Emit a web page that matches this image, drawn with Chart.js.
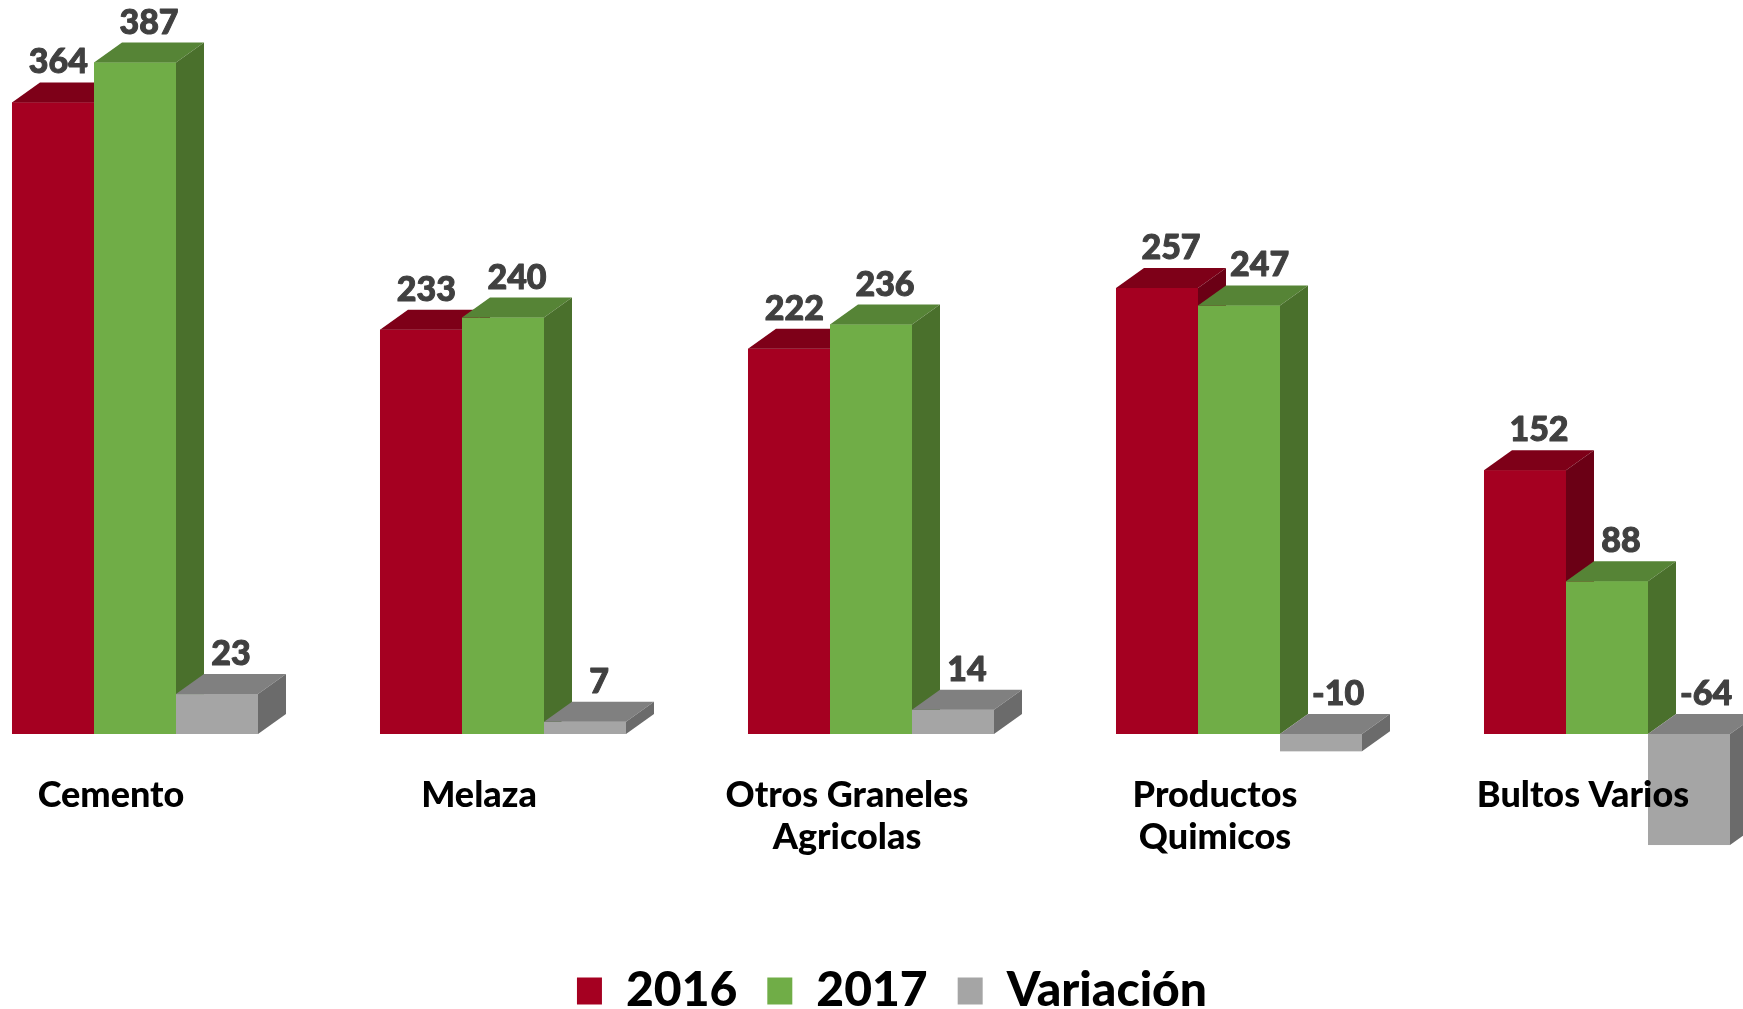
<!DOCTYPE html>
<html>
<head>
<meta charset="utf-8">
<title>Comparativo 2016 - 2017</title>
<script src="https://cdn.jsdelivr.net/npm/chart.js@4.4.1/dist/chart.umd.min.js"></script>
<style>
  html, body { margin: 0; padding: 0; background: #fff; overflow: hidden; width: 1743px; height: 1009px; }
  #wrap { position: absolute; left: -49px; top: 0; width: 1882px; height: 1009px; }
</style>
</head>
<body>
<div id="wrap"><canvas id="barChart"></canvas></div>
<script>
var categories = ['Cemento', 'Melaza', ['Otros Graneles', 'Agricolas'], ['Productos', 'Quimicos'], 'Bultos Varios'];
var seriesNames = ['2016', '2017', 'Variación'];
var values2016 = [364, 233, 222, 257, 152];
var values2017 = [387, 240, 236, 247, 88];
var variacion = [23, 7, 14, -10, -64];

// front / top / side colours for the fake 3d boxes
var frontColors = ['#A50021', '#70AD47', '#A5A5A5'];
var topColors = ['#7E0018', '#568436', '#808080'];
var sideColors = ['#6B0015', '#4A702C', '#6B6B6B'];

var depthX = 28;
var depthY = 20;

function poly(ctx, color, pts) {
    ctx.fillStyle = color;
    ctx.beginPath();
    ctx.moveTo(pts[0][0], pts[0][1]);
    for (var k = 1; k < pts.length; k++) ctx.lineTo(pts[k][0], pts[k][1]);
    ctx.closePath();
    ctx.fill();
}

var bar3d = {
    id: 'bar3d',
    afterDatasetsDraw: function(chart) {
        var ctx = chart.ctx;
        var n = chart.data.datasets.length;
        ctx.save();
        for (var j = 0; j < categories.length; j++) {
            for (var i = 0; i < n; i++) {
                var p = chart.getDatasetMeta(i).data[j].getProps(['x', 'y', 'base', 'width'], true);
                var left = p.x - p.width / 2, right = p.x + p.width / 2;
                var top = Math.min(p.y, p.base), bottom = Math.max(p.y, p.base);
                ctx.fillStyle = frontColors[i];
                ctx.fillRect(left, top, p.width, bottom - top);
                poly(ctx, topColors[i], [[left, top], [right, top], [right + depthX, top - depthY], [left + depthX, top - depthY]]);
                poly(ctx, sideColors[i], [[right, top], [right + depthX, top - depthY], [right + depthX, bottom - depthY], [right, bottom]]);
            }
        }
        // value labels, nudged off the neighbouring taller boxes
        ctx.font = '900 34px Lato';
        ctx.fillStyle = '#404040';
        ctx.strokeStyle = '#404040';
        ctx.lineWidth = 1;
        ctx.lineJoin = 'round';
        ctx.textAlign = 'center';
        ctx.textBaseline = 'alphabetic';
        for (var j = 0; j < categories.length; j++) {
            for (var i = 0; i < n; i++) {
                var bar = chart.getDatasetMeta(i).data[j];
                var top = Math.min(bar.y, bar.base);
                var txt = String(chart.data.datasets[i].data[j]);
                var w = ctx.measureText(txt).width;
                var cx = bar.x + depthX / 2;
                if (i + 1 < n) {
                    var nb = chart.getDatasetMeta(i + 1).data[j];
                    var nleft = nb.x - nb.width / 2;
                    if (Math.min(nb.y, nb.base) < top && cx + w / 2 > nleft - 6) cx = nleft - 6 - w / 2;
                }
                if (i > 0) {
                    var pb = chart.getDatasetMeta(i - 1).data[j];
                    var pright = pb.x + pb.width / 2 + depthX;
                    if (Math.min(pb.y, pb.base) < top && cx - w / 2 < pright + 4) cx = pright + 4 + w / 2;
                }
                ctx.strokeText(txt, cx, top - depthY - 9);
                ctx.fillText(txt, cx, top - depthY - 9);
            }
        }
        ctx.restore();
    }
};

var config = {
    type: 'bar',
    data: {
        labels: categories,
        datasets: [
            { label: seriesNames[0], data: values2016, backgroundColor: frontColors[0], borderWidth: 0 },
            { label: seriesNames[1], data: values2017, backgroundColor: frontColors[1], borderWidth: 0 },
            { label: seriesNames[2], data: variacion, backgroundColor: frontColors[2], borderWidth: 0 }
        ]
    },
    options: {
        responsive: true,
        maintainAspectRatio: false,
        animation: false,
        categoryPercentage: 0.6685,
        barPercentage: 1,
        layout: { padding: { top: 40, right: 0, bottom: 0, left: 0 } },
        scales: {
            x: {
                grid: { display: false, drawTicks: false },
                border: { display: false },
                ticks: {
                    z: 1,
                    color: '#000',
                    font: { family: 'Lato', weight: '900', size: 36, lineHeight: 1.17 },
                    padding: 40,
                    labelOffset: -24,
                    maxRotation: 0,
                    autoSkip: false
                },
                afterFit: function(s) { s.height = 203; }
            },
            y: {
                position: 'right',
                min: 0,
                max: 400,
                grid: { display: false, drawTicks: false },
                border: { display: false },
                ticks: { display: false },
                afterFit: function(s) { s.width = 42; }
            }
        },
        plugins: {
            tooltip: { enabled: false },
            legend: {
                position: 'bottom',
                maxHeight: 72,
                labels: {
                    boxWidth: 25,
                    boxHeight: 27,
                    padding: 30,
                    color: '#000',
                    font: { family: 'Lato', weight: '900', size: 48 }
                }
            }
        }
    },
    plugins: [bar3d]
};

var ctx = document.getElementById('barChart').getContext('2d');
var myChart = new Chart(ctx, config);
</script>
</body>
</html>
